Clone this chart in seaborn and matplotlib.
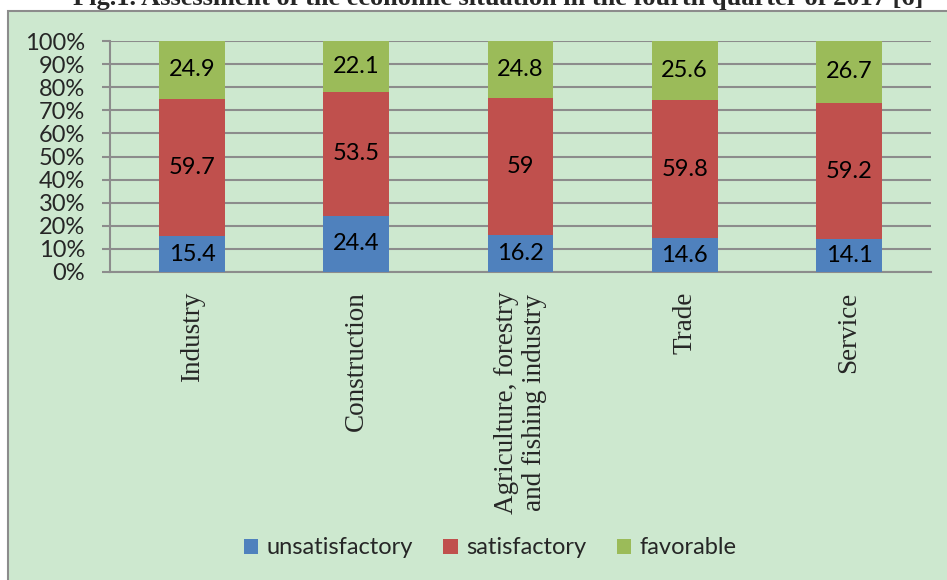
import pandas as pd
import matplotlib.pyplot as plt
import seaborn as sns
from matplotlib.patches import Rectangle
from matplotlib.ticker import FixedLocator

# data
sectors = ['Industry', 'Construction', 'Agriculture, forestry\nand fishing industry', 'Trade', 'Service']
unsatisfactory = [15.4, 24.4, 16.2, 14.6, 14.1]
satisfactory = [59.7, 53.5, 59.0, 59.8, 59.2]
favorable = [24.9, 22.1, 24.8, 25.6, 26.7]
series_names = ['unsatisfactory', 'satisfactory', 'favorable']
colors = ['#4f81bd', '#c0504d', '#9bbb59']
title = 'Fig.1. Assessment of the economic situation in the fourth quarter of 2017 [6]'

sns.set_style("white")
plt.rcParams['font.family'] = ['Lato', 'DejaVu Sans']

bg = '#cde8cf'
grid_col = '#8c8c8c'

fig = plt.figure(figsize=(9.47, 5.8), dpi=100)
fig.patch.set_facecolor('white')

# chart frame (left and top edges visible, rest runs off the image)
fig.patches.append(Rectangle((8 / 947, -0.05), 1.0, 1.031, transform=fig.transFigure,
                             facecolor=bg, edgecolor='#8c8c8c', lw=1.5, zorder=-10))

fig.text(0.526, 1 - 5 / 580, title, ha='center', va='baseline', fontsize=19,
         fontweight='bold', family=['Liberation Serif', 'DejaVu Serif'])

ax = fig.add_axes([110 / 947, 1 - 272 / 580, (931 - 110) / 947, (272 - 41) / 580])
ax.set_facecolor('none')

df = pd.DataFrame({'sector': sectors, 'unsatisfactory': unsatisfactory,
                   'satisfactory': satisfactory, 'favorable': favorable})

bottom = [0.0] * len(sectors)
for name, col in zip(series_names, colors):
    sns.barplot(data=df, x='sector', y=name, color=col, width=0.4, bottom=bottom,
                errorbar=None, ax=ax, label=name, saturation=1, zorder=3, linewidth=0)
    bottom = [b + v for b, v in zip(bottom, df[name])]

for cont, name in zip(ax.containers, series_names):
    ax.bar_label(cont, labels=[f'{v:g}' for v in df[name]], label_type='center',
                 fontsize=17, color='black')

ax.set_ylim(0, 100)
ax.set_xlim(-0.5, len(sectors) - 0.5)
ax.set_yticks(range(0, 101, 10))
ax.set_yticklabels([f'{v}%' for v in range(0, 101, 10)], fontsize=17)
ax.yaxis.grid(True, color=grid_col, lw=1.5, zorder=0)
ax.set_axisbelow(True)
ax.set_xlabel('')
ax.set_ylabel('')

ax.set_xticks(range(len(sectors)))
ax.set_xticklabels(sectors, rotation=90, fontsize=19.5, linespacing=1.2,
                   family=['Liberation Serif', 'DejaVu Serif'])
ax.xaxis.set_minor_locator(FixedLocator([i - 0.5 for i in range(len(sectors) + 1)]))
ax.tick_params(axis='x', which='major', length=0, pad=14)
ax.tick_params(axis='x', which='minor', length=6, width=1.5, color=grid_col, direction='out')
ax.tick_params(axis='y', length=6, width=1.5, color=grid_col, direction='out', pad=12, left=True)

for side in ['top', 'right']:
    ax.spines[side].set_visible(False)
for side in ['left', 'bottom']:
    ax.spines[side].set_color(grid_col)
    ax.spines[side].set_linewidth(1.5)

handles, labels = ax.get_legend_handles_labels()
if ax.get_legend() is not None:
    ax.get_legend().remove()
fig.legend(handles, labels, loc='center', bbox_to_anchor=(490 / 947, 1 - 548 / 580), ncol=3,
           frameon=False, fontsize=17, handlelength=0.6, handleheight=0.6,
           handletextpad=0.35, columnspacing=1.3)

fig.savefig('out.png', dpi=100, facecolor=fig.get_facecolor())
